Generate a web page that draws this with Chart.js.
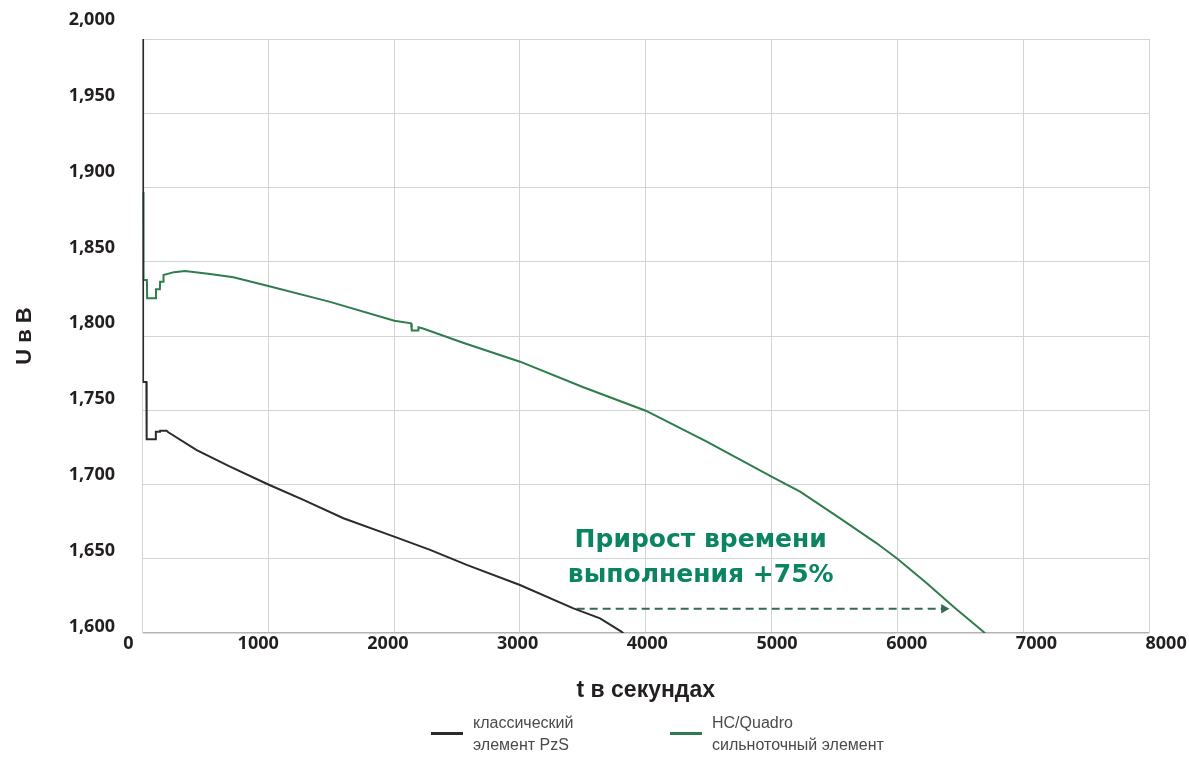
<!DOCTYPE html>
<html>
<head>
<meta charset="utf-8">
<script src="https://cdn.jsdelivr.net/npm/chart.js@4.4.1/dist/chart.umd.min.js"></script>
<style>
    html, body { margin: 0; padding: 0; background: #fff; }
    #wrap { position: relative; width: 1189px; height: 757px; }
    #legend { position: absolute; left: 0; top: 0; width: 100%; height: 100%; pointer-events: none;
              font-family: "Liberation Sans", Arial, sans-serif; font-size: 16px; color: #4a4a4a; }
    .swatch { position: absolute; height: 3px; width: 32px; }
    .label { position: absolute; line-height: 22px; white-space: nowrap; }
</style>
</head>
<body>
<div id="wrap">
    <canvas id="chart" width="1189" height="757"></canvas>
    <div id="legend"></div>
</div>
<script>
// ---------------- data ----------------
const timeTicks = [0, 1000, 2000, 3000, 4000, 5000, 6000, 7000, 8000]
const voltTicks = [1.6, 1.65, 1.7, 1.75, 1.8, 1.85, 1.9, 1.95, 2.0]

// classic PzS cell
const pzsTime = [4, 4.5, 31, 33, 105, 106, 139, 140, 192, 205, 431, 696, 1000, 1279, 1597, 2000, 2286, 2577, 3000, 3425, 3637, 3809, 3830]
const pzsVolt = [2.02, 1.769, 1.769, 1.7304, 1.7304, 1.7356, 1.7356, 1.7362, 1.7362, 1.7352, 1.7232, 1.712, 1.7, 1.6896, 1.6773, 1.6649, 1.656, 1.6459, 1.6323, 1.6166, 1.6099, 1.6008, 1.599]

// HC/Quadro high current cell
const hcTime = [4, 8, 35, 37, 105, 107, 138, 140, 165, 167, 250, 338, 537, 722, 1000, 1491, 2002, 2135, 2140, 2190, 2193, 2230, 2548, 3001, 3504, 4000, 4485, 5000, 5227, 5545, 5836, 6000, 6234, 6446, 6684, 6705]
const hcVolt = [1.897, 1.8377, 1.8377, 1.8254, 1.8254, 1.8314, 1.8314, 1.8366, 1.8366, 1.841, 1.843, 1.8438, 1.8418, 1.8395, 1.8337, 1.823, 1.8103, 1.8085, 1.8037, 1.8037, 1.8058, 1.805, 1.7955, 1.7827, 1.7655, 1.7497, 1.7288, 1.7053, 1.6952, 1.6772, 1.6604, 1.65, 1.6335, 1.6177, 1.6008, 1.599]

// dashed arrow "+75%"
const arrowTime = [3451, 6370]
const arrowVolt = [1.6164, 1.6164]

// annotation text
const noteLines = ["Прирост времени", "выполнения +75%"]
const noteTime = 4437
const noteVolt = [1.6581, 1.6345]

const seriesNames = [["классический", "элемент PzS"], ["HC/Quadro", "сильноточный элемент"]]
const seriesColors = ["#2b2b2b", "#2f7d4c"]

// ---------------- helpers ----------------
const toPoints = (xs, ys) => xs.map((x, i) => ({ x: x, y: ys[i] }))

const textColor = "#231f20"
const gridColor = "#cfd4d4"
const tickFont = { family: "'Open Sans', sans-serif", size: 18, weight: "bold" }

// Draws the green annotation
const noteText = {
    id: "noteText",
    afterDatasetsDraw(chart) {
        const { ctx, scales: { x, y } } = chart
        ctx.save()
        ctx.font = "bold 25px 'DejaVu Sans'"
        ctx.fillStyle = "#0b8461"
        ctx.textAlign = "center"
        ctx.textBaseline = "alphabetic"
        noteLines.forEach((line, i) => {
            ctx.fillText(line, x.getPixelForValue(noteTime), y.getPixelForValue(noteVolt[i]))
        })
        ctx.restore()
    }
}

const ctx = document.getElementById("chart").getContext("2d")

new Chart(ctx, {
    type: "line",
    data: {
        datasets: [
            {
                label: seriesNames[0].join(" "),
                data: toPoints(pzsTime, pzsVolt),
                borderColor: seriesColors[0],
                borderWidth: 2,
                pointRadius: 0
            },
            {
                label: seriesNames[1].join(" "),
                data: toPoints(hcTime, hcVolt),
                borderColor: seriesColors[1],
                borderWidth: 2,
                pointRadius: 0
            },
            {
                label: "arrow",
                data: toPoints(arrowTime, arrowVolt),
                borderColor: "#336b52",
                backgroundColor: "#336b52",
                borderWidth: 2,
                borderDash: [8, 5],
                pointRadius: [0, 5.5],
                pointStyle: "triangle",
                pointRotation: 90,
                pointBorderWidth: 0,
                pointBackgroundColor: "#336b52"
            }
        ]
    },
    options: {
        responsive: false,
        animation: false,
        layout: { padding: { top: 39, right: 40, left: 0, bottom: 0 } },
        elements: { line: { tension: 0 } },
        plugins: {
            legend: { display: false },
            tooltip: { enabled: false }
        },
        scales: {
            x: {
                type: "linear",
                min: 0,
                max: 8000,
                ticks: { display: false, stepSize: 1000 },
                grid: { color: gridColor, drawTicks: false },
                border: { display: false },
                afterFit: (s) => { s.height = 0 }
            },
            y: {
                type: "linear",
                position: "left",
                min: 1.6,
                max: 2.0,
                ticks: { display: false, stepSize: 0.05 },
                grid: {
                    color: (c) => c.index === 0 ? "#b3b3b3" : gridColor,
                    lineWidth: (c) => c.index === 0 ? 1.5 : 1,
                    drawTicks: false
                },
                border: { display: false },
                afterFit: (s) => { s.width = 0 }
            },
            // label axes: in the picture the tick labels are spread a bit wider than the grid
            xl: {
                type: "linear",
                position: "bottom",
                min: 107.9,
                max: 7868,
                afterBuildTicks: (s) => { s.ticks = timeTicks.map((v) => ({ value: v })) },
                ticks: {
                    autoSkip: false,
                    maxRotation: 0,
                    padding: 0,
                    color: textColor,
                    font: tickFont,
                    callback: (v) => String(v)
                },
                grid: { display: false, drawTicks: false },
                border: { display: false },
                title: {
                    display: true,
                    text: "t в секундах",
                    color: textColor,
                    font: { family: "'Liberation Sans', Arial, sans-serif", size: 23, weight: "bold" },
                    padding: { top: 0, bottom: 53 }
                },
                afterFit: (s) => { s.height = 124 }
            },
            yl: {
                type: "linear",
                position: "left",
                min: 1.59586,
                max: 1.98747,
                afterBuildTicks: (s) => { s.ticks = voltTicks.map((v) => ({ value: v })) },
                ticks: {
                    autoSkip: false,
                    padding: 27.5,
                    color: textColor,
                    font: tickFont,
                    callback: (v) => v.toFixed(3).replace(".", ",")
                },
                grid: { display: false, drawTicks: false },
                border: { display: false },
                title: {
                    display: true,
                    text: "U в В",
                    color: textColor,
                    font: { family: "'Liberation Sans', Arial, sans-serif", size: 22, weight: "bold" },
                    padding: { top: 12, bottom: 0 }
                },
                afterFit: (s) => { s.width = 142.5 }
            }
        }
    },
    plugins: [noteText]
})

// HTML legend (labels break over two lines like the original)
const legend = document.getElementById("legend")
const legendLeft = [431, 670]
seriesNames.forEach((lines, i) => {
    const sw = document.createElement("div")
    sw.className = "swatch"
    sw.style.left = legendLeft[i] + "px"
    sw.style.top = "732px"
    sw.style.background = seriesColors[i]
    legend.appendChild(sw)

    const lb = document.createElement("div")
    lb.className = "label"
    lb.style.left = (legendLeft[i] + 42) + "px"
    lb.style.top = "712px"
    lb.innerHTML = lines.join("<br>")
    legend.appendChild(lb)
})
</script>
</body>
</html>
